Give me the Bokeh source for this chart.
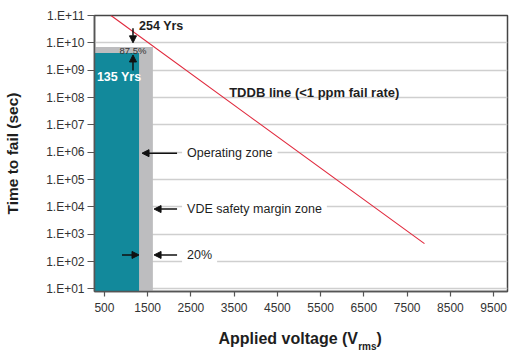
import math
from bokeh.plotting import figure
from bokeh.models import (ColumnDataSource, FixedTicker, CustomJSTickFormatter,
                          Label, Arrow, NormalHead, LinearAxis)
from bokeh.embed import file_html
from bokeh.resources import INLINE

# ---------------- data ----------------
zone_names = ["VDE safety margin zone", "Operating zone"]
zone_right_v = [1620, 1300]          # applied voltage (Vrms)
zone_top_s = [7.07e9, 4.26e9]        # time to fail (sec)
zone_colors = ["#bdbdbf", "#12899b"]

tddb_v = [650, 7900]                 # TDDB line end points (Vrms)
tddb_s = [1.0e11, 450]               # time to fail (sec)

y_ticks = [1e1, 1e2, 1e3, 1e4, 1e5, 1e6, 1e7, 1e8, 1e9, 1e10, 1e11]
y_tick_labels = ["1.E+01", "1.E+02", "1.E+03", "1.E+04", "1.E+05", "1.E+06",
                 "1.E+07", "1.E+08", "1.E+09", "1.E+10", "1.E+11"]
x_ticks = [500, 1500, 2500, 3500, 4500, 5500, 6500, 7500, 8500, 9500]
x_tick_labels = ["500", "1500", "2500", "3500", "4500", "5500", "6500",
                 "7500", "8500", "9500"]

FONT = "'Liberation Sans', Arial, sans-serif"
DARK = "#1e1e1e"

p = figure(width=520, height=356, x_range=(270, 9820), y_range=(8, 1e11),
           y_axis_type="log", output_backend="svg", toolbar_location=None,
           min_border_left=94, min_border_right=13, min_border_top=15,
           min_border_bottom=65)
p.background_fill_color = "white"
p.border_fill_color = "white"
p.outline_line_color = "#444444"
p.outline_line_width = 1.5

# zones
src = ColumnDataSource(dict(left=[0, 0], right=zone_right_v, bottom=[1, 1],
                            top=zone_top_s, color=zone_colors, name=zone_names))
p.quad(left="left", right="right", bottom="bottom", top="top", color="color",
       line_color=None, source=src)

# TDDB line
p.line(tddb_v, tddb_s, line_color="#e0283c", line_width=1.1)

# axes
p.xgrid.visible = False
p.ygrid.ticker = FixedTicker(ticks=y_ticks)
p.ygrid.grid_line_color = "#cfcfcf"
p.ygrid.grid_line_width = 1.5

LOOKUP_LOG = """
let best = 0, d = Infinity;
for (let i = 0; i < tvals.length; i++) {
  const e = Math.abs(Math.log10(tvals[i]) - Math.log10(tick));
  if (e < d) { d = e; best = i; }
}
return d < 1e-6 ? tlabels[best] : "";
"""
LOOKUP_LIN = """
for (let i = 0; i < tvals.length; i++) {
  if (Math.abs(tvals[i] - tick) < 1e-6) return tlabels[i];
}
return "";
"""
p.yaxis.ticker = FixedTicker(ticks=y_ticks)
p.yaxis.formatter = CustomJSTickFormatter(
    args=dict(tvals=y_ticks, tlabels=y_tick_labels), code=LOOKUP_LOG)
p.xaxis.ticker = FixedTicker(ticks=x_ticks)
p.xaxis.formatter = CustomJSTickFormatter(
    args=dict(tvals=x_ticks, tlabels=x_tick_labels), code=LOOKUP_LIN)
for ax in (p.xaxis[0], p.yaxis[0]):
    ax.minor_tick_line_color = None
    ax.major_tick_in = 0
    ax.major_tick_line_color = "#555555"
    ax.major_tick_line_width = 1.2
    ax.axis_line_color = "#555555"
    ax.axis_line_width = 1.5
    ax.major_label_text_font = FONT
    ax.major_label_text_font_size = "12px"
    ax.major_label_text_color = "#333333"
p.yaxis.major_tick_out = 7
p.yaxis.major_label_standoff = 3
p.xaxis.major_tick_out = 5
p.xaxis.major_label_standoff = 6

# y title
p.yaxis.axis_label = "Time to fail (sec)"
p.yaxis.axis_label_text_font = FONT
p.yaxis.axis_label_text_font_style = "bold"
p.yaxis.axis_label_text_font_size = "15.5px"
p.yaxis.axis_label_text_color = DARK
p.yaxis.axis_label_standoff = 22

# x title: "Applied voltage (V" + subscript "rms" + ")"
def text_axis(pos, texts, size, standoff):
    ax = LinearAxis(ticker=FixedTicker(ticks=pos),
                    formatter=CustomJSTickFormatter(
                        args=dict(tvals=pos, tlabels=texts), code=LOOKUP_LIN))
    ax.axis_line_color = None
    ax.major_tick_line_color = None
    ax.minor_tick_line_color = None
    ax.major_tick_out = 0
    ax.major_tick_in = 0
    ax.major_label_standoff = standoff
    ax.major_label_text_font = FONT
    ax.major_label_text_font_style = "bold"
    ax.major_label_text_font_size = size
    ax.major_label_text_color = DARK
    p.add_layout(ax, "below")

text_axis([4750, 6854], ["Applied voltage (V", ")"], "16px", 15)
text_axis([6580], ["rms"], "10px", -9)

# in-plot annotations
def lab(x, y, text, size="12.5px", bold=False, color=DARK, align="left", bg=None):
    kw = {}
    if bg:
        kw = dict(background_fill_color=bg, padding=5)
    p.add_layout(Label(x=x, y=y, text=text, text_align=align,
                       text_baseline="middle", text_font=FONT,
                       text_font_style="bold" if bold else "normal",
                       text_font_size=size, text_color=color, **kw))

lab(1300, 4.0e10, "254 Yrs", bold=True)
lab(1160, 5.3e9, "87.5%", size="9.5px", color="#333333", align="center")
lab(326, 5.5e8, "135 Yrs", bold=True, color="white")
lab(3384, 1.55e8, "TDDB line (<1 ppm fail rate)", size="13px", bold=True)
lab(2295, 9.2e5, "Operating zone", bg="white")
lab(2295, 8.3e3, "VDE safety margin zone", bg="white")
lab(2295, 1.74e2, "20%", bg="white")

def arrow(x0, y0, x1, y1):
    p.add_layout(Arrow(end=NormalHead(size=7, fill_color="#111111",
                                      line_color="#111111"),
                       x_start=x0, y_start=y0, x_end=x1, y_end=y1,
                       line_color="#111111", line_width=1.5))

arrow(1160, 3.4e10, 1160, 1.0e10)
arrow(1160, 9.8e8, 1160, 3.6e9)
arrow(2179, 9.2e5, 1369, 9.2e5)
arrow(2179, 8.3e3, 1647, 8.3e3)
arrow(2179, 1.74e2, 1647, 1.74e2)
arrow(905, 1.74e2, 1299, 1.74e2)

open("out.html", "w").write(file_html(p, INLINE))
